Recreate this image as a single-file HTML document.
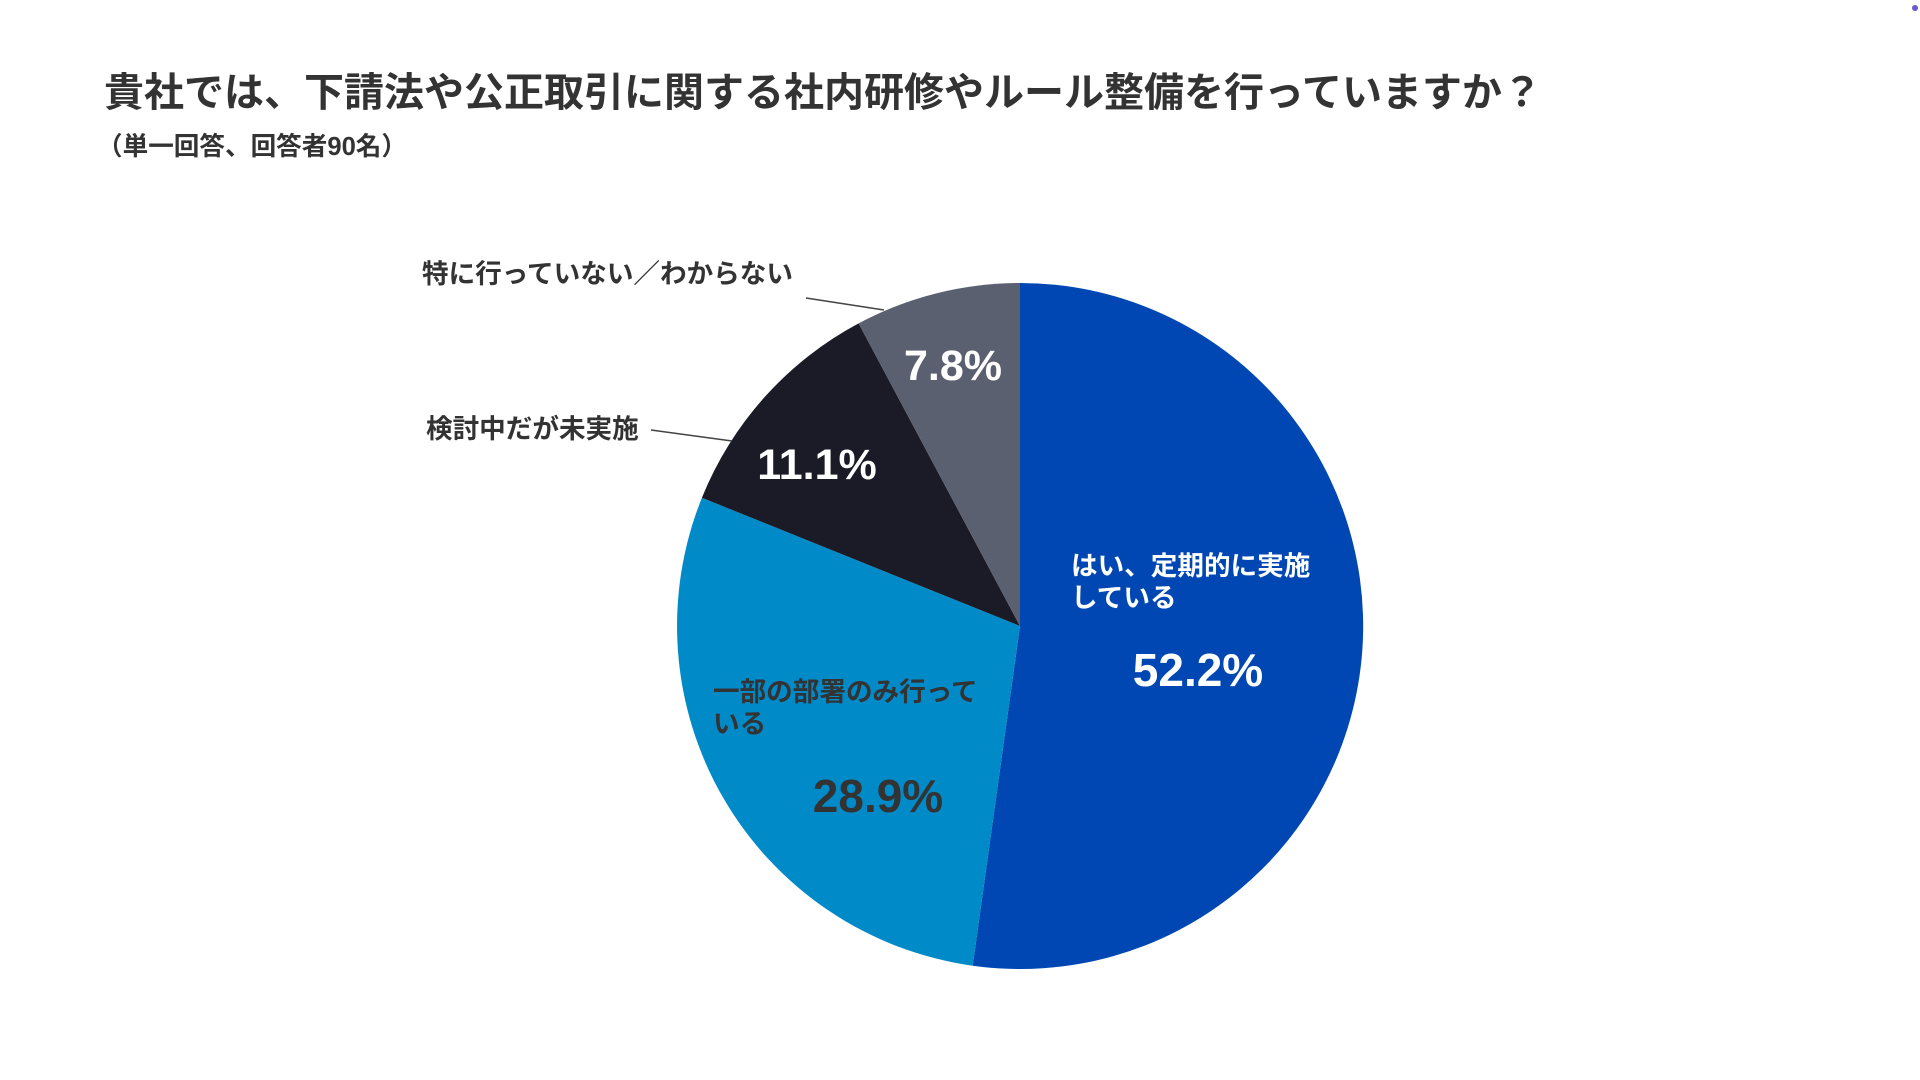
<!DOCTYPE html>
<html><head><meta charset="utf-8"><style>
html,body{margin:0;padding:0;background:#fff;}
svg{display:block;}
text{font-family:"Liberation Sans","Noto Sans CJK JP",sans-serif;font-weight:bold;}
</style></head><body>
<svg width="1920" height="1080" viewBox="0 0 1920 1080">
<text x="104" y="106" font-size="40" fill="#333">貴社では、下請法や公正取引に関する社内研修やルール整備を行っていますか？</text>
<text x="97" y="155" font-size="25.6" fill="#333">（単一回答、回答者90名）</text>
<circle cx="1915" cy="8" r="3" fill="#6a5acd"/>
<path d="M1020,626 L1020,283 A343,343 0 1,1 972.7,965.7 Z" fill="#0047b3"/>
<path d="M1020,626 L972.7,965.7 A343,343 0 0,1 701.9,497.8 Z" fill="#008bc8"/>
<path d="M1020,626 L701.9,497.8 A343,343 0 0,1 858.6,323.4 Z" fill="#1a1b26"/>
<path d="M1020,626 L858.6,323.4 A343,343 0 0,1 1020,283 Z" fill="#5b6070"/>
<g fill="#fff">
<text x="1071" y="575" font-size="26.6">はい、定期的に実施</text>
<text x="1071" y="607" font-size="26.6">している</text>
<text x="1198" y="686" font-size="46" text-anchor="middle">52.2%</text>
<text x="817" y="479" font-size="43" text-anchor="middle">11.1%</text>
<text x="953" y="380" font-size="43" text-anchor="middle">7.8%</text>
</g>
<g fill="#333">
<text x="713" y="701" font-size="26.6">一部の部署のみ行って</text>
<text x="713" y="733" font-size="26.6">いる</text>
<text x="878" y="812" font-size="46" text-anchor="middle">28.9%</text>
<text x="426" y="438" font-size="26.6">検討中だが未実施</text>
<text x="422" y="283" font-size="26.6">特に行っていない／わからない</text>
</g>
<line x1="651" y1="430" x2="732" y2="441" stroke="#444" stroke-width="1.5"/>
<line x1="806" y1="298" x2="884" y2="310" stroke="#444" stroke-width="1.5"/>
</svg>
</body></html>
